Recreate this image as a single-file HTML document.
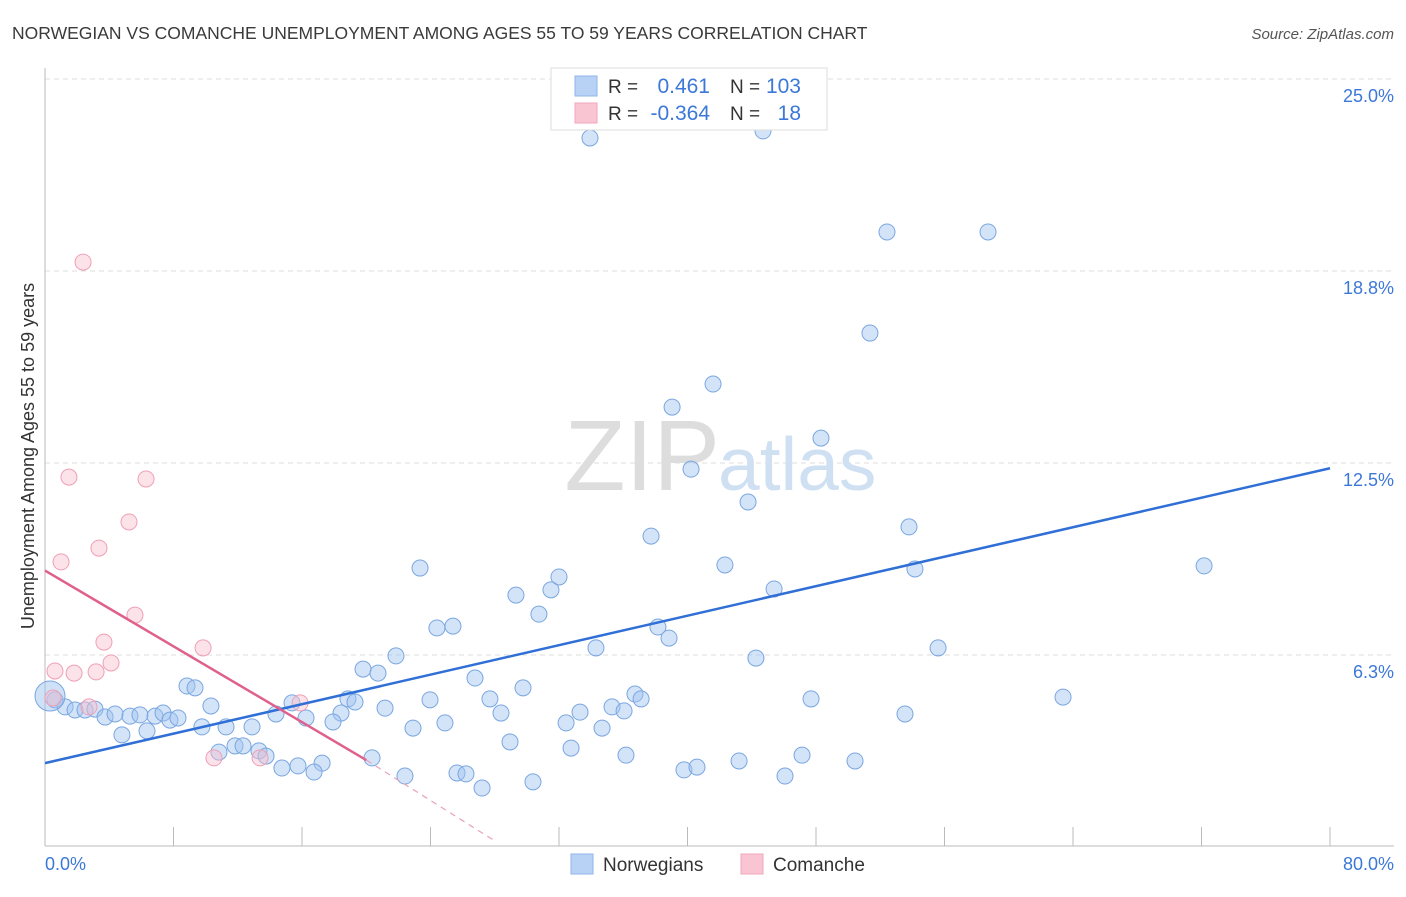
<!DOCTYPE html>
<html><head><meta charset="utf-8"><style>
body{margin:0;background:#fff;font-family:"Liberation Sans",sans-serif}
svg text{font-family:"Liberation Sans",sans-serif}
</style></head><body>
<svg id="chart" width="1406" height="892">
<text x="12" y="39" font-size="17.5" fill="#3a3a3a">NORWEGIAN VS COMANCHE UNEMPLOYMENT AMONG AGES 55 TO 59 YEARS CORRELATION CHART</text>
<text x="1394" y="39" font-size="15" fill="#555" font-style="italic" text-anchor="end">Source: ZipAtlas.com</text>
<g id="grid"></g>
<text x="720" y="490" font-size="100" fill="#ddd" text-anchor="end" font-family="Liberation Serif">ZIP</text>
<text x="718" y="490" font-size="75" fill="#cfe0f3">atlas</text>
<line x1="45" y1="68" x2="45" y2="846" stroke="#bbb"/>
<line x1="45" y1="846" x2="1394" y2="846" stroke="#bbb"/>
<g id="ticks"></g>
<g id="ylabels"></g>
<text x="45" y="870" font-size="18" fill="#3b78d8">0.0%</text>
<text x="1394" y="870" font-size="18" fill="#3b78d8" text-anchor="end">80.0%</text>
<text transform="translate(34,456) rotate(-90)" font-size="18" fill="#333" text-anchor="middle">Unemployment Among Ages 55 to 59 years</text>
<g id="pts"></g>
<g id="lines"></g>
<g>
<rect x="551" y="68" width="276" height="62" fill="#fff" stroke="#ddd"/>
<rect x="575" y="76" width="22" height="20" fill="#b8d2f5" stroke="#8fb4ea"/>
<rect x="575" y="103" width="22" height="20" fill="#f9c5d3" stroke="#f1a6bb"/>
<text x="608" y="93" font-size="19" fill="#333">R = </text><text x="710" y="93" font-size="21" fill="#3b78d8" text-anchor="end">0.461</text>
<text x="730" y="93" font-size="19" fill="#333">N = </text><text x="801" y="93" font-size="21" fill="#3b78d8" text-anchor="end">103</text>
<text x="608" y="120" font-size="19" fill="#333">R = </text><text x="710" y="120" font-size="21" fill="#3b78d8" text-anchor="end">-0.364</text>
<text x="730" y="120" font-size="19" fill="#333">N = </text><text x="801" y="120" font-size="21" fill="#3b78d8" text-anchor="end">18</text>
</g>
<g>
<rect x="571" y="854" width="22" height="20" fill="#b8d2f5" stroke="#8fb4ea"/>
<text x="603" y="871" font-size="19" fill="#333">Norwegians</text>
<rect x="741" y="854" width="22" height="20" fill="#f9c5d3" stroke="#f1a6bb"/>
<text x="773" y="871" font-size="19" fill="#333">Comanche</text>
</g>
</svg>
<script>
const yTicks=[6.25,12.5,18.75,25];
const yTickLabels=["6.3%","12.5%","18.8%","25.0%"];
const xTicks=[0,8,16,24,32,40,48,56,64,72,80];
const bluePx=[[590,138],[763,131],[887,232],[988,232],[870,333],[713,384],[672,407],[821,438],[691,469],[748,502],[909,527],[651,536],[725,565],[1204,566],[915,569],[420,568],[559,577],[516,595],[551,590],[539,614],[774,589],[437,628],[453,626],[658,627],[669,638],[596,648],[756,658],[938,648],[396,656],[363,669],[378,673],[475,678],[523,688],[187,686],[195,688],[635,694],[641,699],[1063,697],[811,699],[490,699],[430,700],[348,699],[355,702],[292,703],[211,706],[385,708],[580,712],[612,707],[624,711],[501,713],[905,714],[341,713],[276,714],[306,718],[333,722],[445,723],[566,723],[602,728],[413,728],[55,700],[65,707],[75,710],[85,710],[95,709],[105,717],[115,714],[130,716],[140,715],[155,716],[163,713],[170,720],[178,718],[122,735],[147,731],[202,727],[226,727],[252,727],[235,746],[243,746],[259,751],[266,756],[219,752],[510,742],[571,748],[626,755],[802,755],[739,761],[855,761],[322,763],[298,766],[282,768],[314,772],[457,773],[466,774],[684,770],[697,767],[405,776],[785,776],[533,782],[482,788],[372,758]];
const pinkPx=[[83,262],[69,477],[146,479],[129,522],[99,548],[61,562],[135,615],[104,642],[203,648],[111,663],[55,671],[74,673],[96,672],[89,707],[300,703],[214,758],[260,758],[53,698]];
// converted to data values (x %, y %)
const blueX=bluePx.map(p=>+((p[0]-45)/16.0625).toFixed(2));
const blueY=bluePx.map(p=>+((847-p[1])/30.72).toFixed(2));
const pinkX=pinkPx.map(p=>+((p[0]-45)/16.0625).toFixed(2));
const pinkY=pinkPx.map(p=>+((847-p[1])/30.72).toFixed(2));
const blueTrend=[[0,2.73],[80,12.33]];
const pinkTrend=[[0,9.0],[20,2.83],[28,0.2]];
const sx=v=>45+v*16.0625, sy=v=>847-v*30.72;
const NS="http://www.w3.org/2000/svg";
function mk(t,a,p){const e=document.createElementNS(NS,t);for(const k in a)e.setAttribute(k,a[k]);p.appendChild(e);return e;}
const grid=document.getElementById('grid'),yl=document.getElementById('ylabels'),tk=document.getElementById('ticks');
yTicks.forEach((v,i)=>{
 const l=mk('line',{x1:45,x2:1394,y1:sy(v),y2:sy(v),stroke:'#ddd','stroke-dasharray':'5,4'},grid);
 
 
 const t=mk('text',{x:1394,y:sy(v)+23,'font-size':18,fill:'#3b78d8','text-anchor':'end'},yl);t.textContent=yTickLabels[i];
 
 
});
const gl=mk('line',{x1:45,x2:1394,y1:79,y2:79,stroke:'#ddd','stroke-dasharray':'5,4'},grid);
xTicks.forEach(v=>{const l=mk('line',{x1:sx(v),x2:sx(v),y1:827,y2:846,stroke:'#bbb'},tk);
 
 });
const pts=document.getElementById('pts');
blueX.forEach((x,i)=>{const c=mk('circle',{cx:sx(x),cy:sy(blueY[i]),r:8,fill:'rgba(160,196,240,0.45)',stroke:'#7aa6e0','stroke-width':1},pts);
 
 });
const big=mk('circle',{cx:50,cy:696,r:15,fill:'rgba(160,196,240,0.5)',stroke:'#7aa6e0'},pts);


pinkX.forEach((x,i)=>{const c=mk('circle',{cx:sx(x),cy:sy(pinkY[i]),r:8,fill:'rgba(248,190,207,0.45)',stroke:'#ef9fb6','stroke-width':1},pts);
 
 });
const ln=document.getElementById('lines');
const bl=mk('line',{x1:sx(blueTrend[0][0]),y1:sy(blueTrend[0][1]),x2:sx(blueTrend[1][0]),y2:sy(blueTrend[1][1]),stroke:'#2f6fd6','stroke-width':2.5},ln);


const pl=mk('line',{x1:sx(pinkTrend[0][0]),y1:sy(pinkTrend[0][1]),x2:sx(pinkTrend[1][0]),y2:sy(pinkTrend[1][1]),stroke:'#e0608c','stroke-width':2.5},ln);


const pd=mk('line',{x1:sx(pinkTrend[1][0]),y1:sy(pinkTrend[1][1]),x2:sx(pinkTrend[2][0]),y2:sy(pinkTrend[2][1]),stroke:'#eaa0b8','stroke-width':1.2,'stroke-dasharray':'6,5'},ln);


</script>
</body></html>
